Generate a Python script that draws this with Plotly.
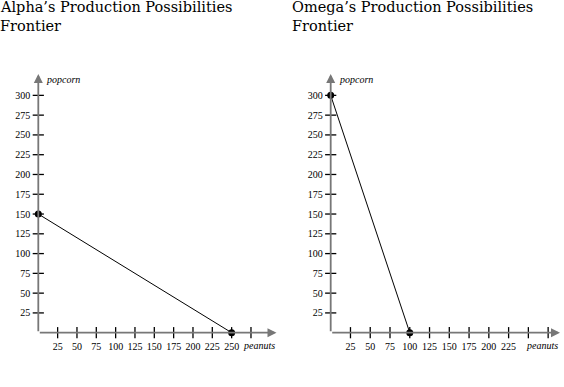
import plotly.graph_objects as go

# Data
alpha_peanuts = [0, 250]
alpha_popcorn = [150, 0]
omega_peanuts = [0, 100]
omega_popcorn = [300, 0]
y_ticks = [25, 50, 75, 100, 125, 150, 175, 200, 225, 250, 275, 300]
alpha_x_ticks = [25, 50, 75, 100, 125, 150, 175, 200, 225, 250, 275]
alpha_x_labels = ["25", "50", "75", "100", "125", "150", "175", "200", "225", "250", ""]
omega_x_ticks = [25, 50, 75, 100, 125, 150, 175, 200, 225, 250, 275]
omega_x_labels = ["25", "50", "75", "100", "125", "150", "175", "200", "225", "", ""]
title_lines = [["Alpha\u2019s Production Possibilities", "Frontier"],
               ["Omega\u2019s Production Possibilities", "Frontier"]]

W, H = 564, 387
SERIF = "Liberation Serif, Times New Roman, serif"
TITLE_FONT = "DejaVu Serif, serif"
AXIS_COLOR = "#777777"

fig = go.Figure()

panels = [
    dict(xa="x", ya="y", px=alpha_peanuts, py=alpha_popcorn, xt=alpha_x_ticks, xl=alpha_x_labels,
         xrange=[0, 308], yrange=[0, 327], dom_px=(38.3, 276.5), title_x=0),
    dict(xa="x2", ya="y2", px=omega_peanuts, py=omega_popcorn, xt=omega_x_ticks, xl=omega_x_labels,
         xrange=[0, 290], yrange=[0, 327], dom_px=(330.7, 560.0), title_x=292),
]
ydom = [(H - 332.7) / H, (H - 74) / H]

for i, p in enumerate(panels):
    fig.add_trace(go.Scatter(x=[0] * len(y_ticks), y=y_ticks, mode="markers",
                             marker=dict(symbol="line-ew", size=8, line=dict(width=1.3, color="black")),
                             xaxis=p["xa"], yaxis=p["ya"], hoverinfo="skip", showlegend=False, cliponaxis=False))
    fig.add_trace(go.Scatter(x=p["xt"], y=[0] * len(p["xt"]), mode="markers",
                             marker=dict(symbol="line-ns", size=8, line=dict(width=1.3, color="black")),
                             xaxis=p["xa"], yaxis=p["ya"], hoverinfo="skip", showlegend=False, cliponaxis=False))
    fig.add_trace(go.Scatter(x=p["px"], y=p["py"], mode="lines+markers",
                             line=dict(color="black", width=1),
                             marker=dict(color="black", size=7),
                             xaxis=p["xa"], yaxis=p["ya"], showlegend=False, cliponaxis=False))

    xkey = "xaxis" if i == 0 else "xaxis2"
    ykey = "yaxis" if i == 0 else "yaxis2"
    d0, d1 = p["dom_px"]
    fig.layout[xkey] = dict(domain=[d0 / W, d1 / W], range=p["xrange"], anchor=p["ya"],
                            showgrid=False, zeroline=False, showline=False, automargin=False,
                            tickvals=p["xt"], ticktext=p["xl"], ticks="outside", ticklen=4,
                            tickcolor="rgba(0,0,0,0)",
                            tickfont=dict(family=SERIF, size=10, color="black"))
    fig.layout[ykey] = dict(domain=ydom, range=p["yrange"], anchor=p["xa"],
                            showgrid=False, zeroline=False, showline=False, automargin=False,
                            tickvals=y_ticks, ticks="outside", ticklen=5,
                            tickcolor="rgba(0,0,0,0)",
                            tickfont=dict(family=SERIF, size=10, color="black"))
    fig.add_annotation(x=p["xrange"][1], y=0, ax=0, ay=0, xref=p["xa"], yref=p["ya"],
                       axref=p["xa"], ayref=p["ya"], showarrow=True, arrowhead=2, arrowsize=1,
                       arrowwidth=1.8, arrowcolor=AXIS_COLOR, text="")
    fig.add_annotation(x=0, y=p["yrange"][1], ax=0, ay=0, xref=p["xa"], yref=p["ya"],
                       axref=p["xa"], ayref=p["ya"], showarrow=True, arrowhead=2, arrowsize=1,
                       arrowwidth=1.8, arrowcolor=AXIS_COLOR, text="")
    fig.add_annotation(x=p["xrange"][1], y=0, xref=p["xa"], yref=p["ya"], text="<i>peanuts</i>",
                       showarrow=False, xanchor="right", yanchor="top", yshift=-5,
                       font=dict(family=SERIF, size=10, color="black"))
    fig.add_annotation(x=0, y=p["yrange"][1], xref=p["xa"], yref=p["ya"], text="<i>popcorn</i>",
                       showarrow=False, xanchor="left", yanchor="middle", xshift=6, yshift=-5,
                       font=dict(family=SERIF, size=10, color="black"))
    for j, line in enumerate(title_lines[i]):
        fig.add_annotation(x=p["title_x"] / W, y=1 - (j * 18.5 - 3) / H, xref="paper", yref="paper",
                           text=line, showarrow=False, xanchor="left", yanchor="top",
                           xshift=-2, font=dict(family=TITLE_FONT, size=14.5, color="black"))

fig.update_layout(width=W, height=H, margin=dict(l=0, r=0, t=0, b=0),
                  plot_bgcolor="white", paper_bgcolor="white", showlegend=False)

fig.write_html("out.html", config={"displayModeBar": False},
               post_script="document.body.style.margin='0';")
